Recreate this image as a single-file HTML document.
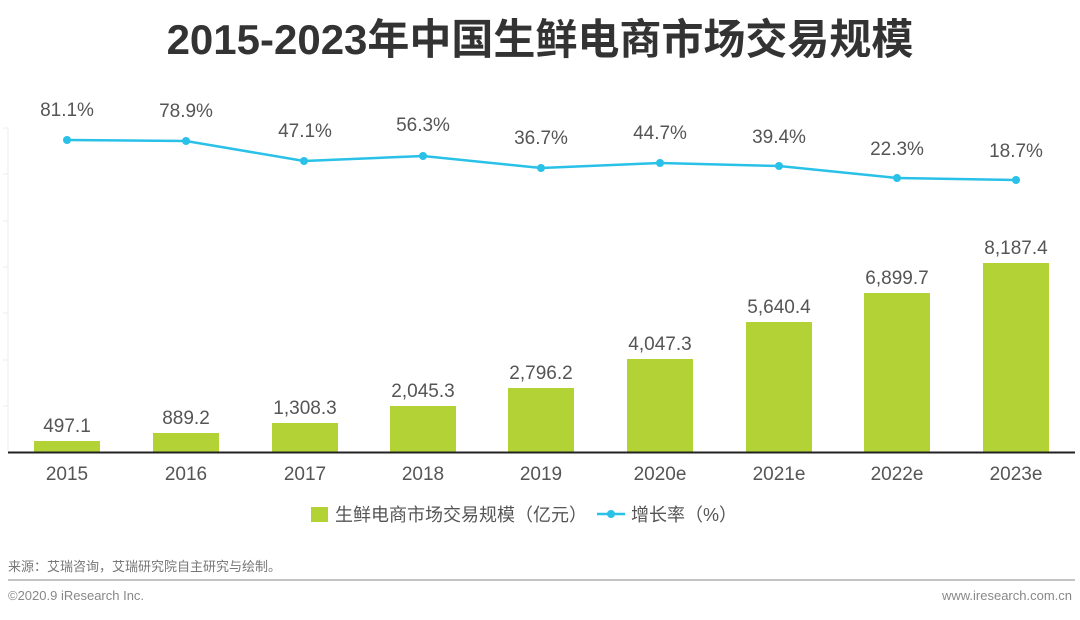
<!DOCTYPE html>
<html><head><meta charset="utf-8"><style>
body{margin:0;background:#fff;width:1080px;height:615px;overflow:hidden;font-family:"Liberation Sans","Noto Sans CJK SC",sans-serif}
</style></head><body>
<svg width="1080" height="615" xmlns="http://www.w3.org/2000/svg" font-family="Liberation Sans, Noto Sans CJK SC, sans-serif">
<text x="540" y="54" text-anchor="middle" font-size="42" font-weight="bold" fill="#333">2015-2023年中国生鲜电商市场交易规模</text>
<g stroke="#eee" stroke-width="1">
<line x1="8" y1="128" x2="8" y2="452"/>
<line x1="3" y1="128" x2="8" y2="128"/><line x1="3" y1="174" x2="8" y2="174"/><line x1="3" y1="221" x2="8" y2="221"/><line x1="3" y1="267" x2="8" y2="267"/><line x1="3" y1="313" x2="8" y2="313"/><line x1="3" y1="360" x2="8" y2="360"/><line x1="3" y1="406" x2="8" y2="406"/>
</g>
<g fill="#b2d235">
<rect x="34" y="441" width="66" height="11"/>
<rect x="153" y="433" width="66" height="19"/>
<rect x="272" y="423" width="66" height="29"/>
<rect x="390" y="406" width="66" height="46"/>
<rect x="508" y="388" width="66" height="64"/>
<rect x="627" y="359" width="66" height="93"/>
<rect x="746" y="322" width="66" height="130"/>
<rect x="864" y="293" width="66" height="159"/>
<rect x="983" y="263" width="66" height="189"/>
</g>
<line x1="8" y1="452.5" x2="1075" y2="452.5" stroke="#222" stroke-width="2"/>
<g font-size="19" fill="#555" text-anchor="middle">
<text x="67" y="432">497.1</text><text x="186" y="424">889.2</text><text x="305" y="414">1,308.3</text>
<text x="423" y="397">2,045.3</text><text x="541" y="379">2,796.2</text><text x="660" y="350">4,047.3</text>
<text x="779" y="313">5,640.4</text><text x="897" y="284">6,899.7</text><text x="1016" y="254">8,187.4</text>
<text x="67" y="480">2015</text><text x="186" y="480">2016</text><text x="305" y="480">2017</text>
<text x="423" y="480">2018</text><text x="541" y="480">2019</text><text x="660" y="480">2020e</text>
<text x="779" y="480">2021e</text><text x="897" y="480">2022e</text><text x="1016" y="480">2023e</text>
<text x="67" y="116">81.1%</text><text x="186" y="117">78.9%</text><text x="305" y="137">47.1%</text>
<text x="423" y="131">56.3%</text><text x="541" y="144">36.7%</text><text x="660" y="139">44.7%</text>
<text x="779" y="143">39.4%</text><text x="897" y="155">22.3%</text><text x="1016" y="157">18.7%</text>
</g>
<polyline fill="none" stroke="#29c1e8" stroke-width="2.5" points="67,140 186,141 304,161 423,156 541,168 660,163 779,166 897,178 1016,180"/>
<g fill="#29c1e8">
<circle cx="67" cy="140" r="4"/><circle cx="186" cy="141" r="4"/><circle cx="304" cy="161" r="4"/><circle cx="423" cy="156" r="4"/><circle cx="541" cy="168" r="4"/><circle cx="660" cy="163" r="4"/><circle cx="779" cy="166" r="4"/><circle cx="897" cy="178" r="4"/><circle cx="1016" cy="180" r="4"/>
</g>
<rect x="311" y="507" width="17" height="15" fill="#b2d235"/>
<text x="335" y="521" font-size="18" fill="#555">生鲜电商市场交易规模（亿元）</text>
<line x1="597" y1="514" x2="625" y2="514" stroke="#29c1e8" stroke-width="2.5"/>
<circle cx="611" cy="514" r="4" fill="#29c1e8"/>
<text x="631" y="521" font-size="18" fill="#555">增长率（%）</text>
<text x="8" y="571" font-size="13" fill="#777">来源：艾瑞咨询，艾瑞研究院自主研究与绘制。</text>
<line x1="8" y1="580" x2="1075" y2="580" stroke="#888" stroke-width="1"/>
<text x="8" y="600" font-size="13" fill="#888">©2020.9 iResearch Inc.</text>
<text x="1072" y="600" font-size="13" fill="#888" text-anchor="end">www.iresearch.com.cn</text>
</svg>
</body></html>
